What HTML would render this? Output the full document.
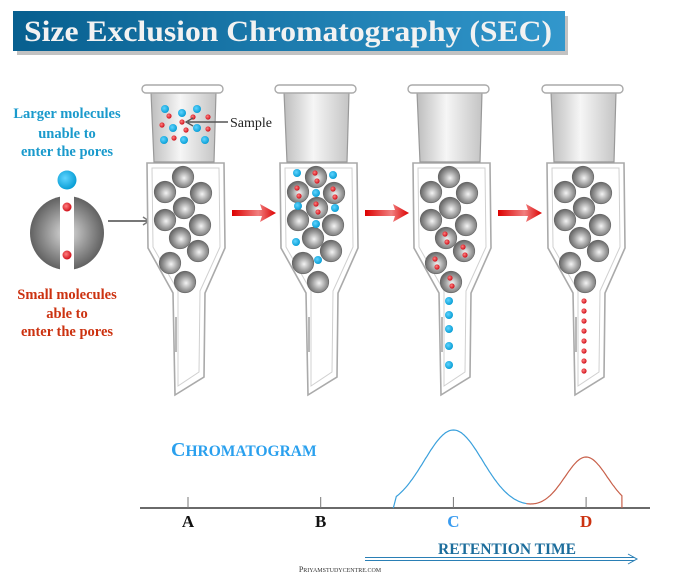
<!DOCTYPE html>
<html><head><meta charset="utf-8"><style>
html,body{margin:0;padding:0;background:#fff;}
svg{display:block;}
.serif{font-family:"Liberation Serif",serif;font-weight:bold;}
</style></head><body>
<svg id="fig" width="680" height="574" viewBox="0 0 680 574" xmlns="http://www.w3.org/2000/svg">
<defs>
<linearGradient id="titleG" x1="0" x2="1"><stop offset="0" stop-color="#075f8f"/><stop offset="1" stop-color="#3297cc"/></linearGradient>
<radialGradient id="bead" cx="0.55" cy="0.55" r="0.6"><stop offset="0" stop-color="#f4f4f4"/><stop offset="0.55" stop-color="#9a9a9a"/><stop offset="1" stop-color="#5a5a5a"/></radialGradient>
<radialGradient id="bigbead" cx="0.5" cy="0.5" r="0.55"><stop offset="0" stop-color="#dcdcdc"/><stop offset="0.6" stop-color="#8a8a8a"/><stop offset="1" stop-color="#555"/></radialGradient>
<radialGradient id="blue" cx="0.4" cy="0.4" r="0.6"><stop offset="0" stop-color="#5fd4ff"/><stop offset="1" stop-color="#0a9fd6"/></radialGradient>
<radialGradient id="red" cx="0.4" cy="0.4" r="0.6"><stop offset="0" stop-color="#ff8080"/><stop offset="1" stop-color="#d0101a"/></radialGradient>
<linearGradient id="res" x1="0" x2="1"><stop offset="0" stop-color="#bdbdbd"/><stop offset="0.45" stop-color="#f6f6f6"/><stop offset="1" stop-color="#c4c4c4"/></linearGradient>
<linearGradient id="arrowG" x1="0" x2="1"><stop offset="0" stop-color="#d00"/><stop offset="0.6" stop-color="#f08080"/><stop offset="1" stop-color="#d00"/></linearGradient>
</defs>

<rect x="17" y="16" width="551" height="39" fill="#999" opacity="0.6"/>
<rect x="13" y="11" width="552" height="40" fill="url(#titleG)"/>
<text x="24" y="41" textLength="528" lengthAdjust="spacingAndGlyphs" class="serif" font-size="30" fill="#f2f2f2">Size Exclusion Chromatography (SEC)</text>

<g class="serif" font-size="14.5" text-anchor="middle" fill="#1a9acc">
<text x="67" y="118">Larger molecules</text><text x="67" y="138">unable to</text><text x="67" y="156">enter the pores</text></g>
<g class="serif" font-size="14.5" text-anchor="middle" fill="#cc3210">
<text x="67" y="299">Small molecules</text><text x="67" y="318">able to</text><text x="67" y="336">enter the pores</text></g>
<circle cx="67" cy="180" r="9.5" fill="url(#blue)"/>
<g>
<circle cx="67" cy="233" r="37" fill="url(#bigbead)"/>
<rect x="60" y="195" width="14" height="76" fill="#fff"/>
<circle cx="67" cy="207" r="4.5" fill="url(#red)"/><circle cx="67" cy="255" r="4.5" fill="url(#red)"/>
</g>
<g><line x1="108" y1="221" x2="148" y2="221" stroke="#777" stroke-width="2"/><path d="M143,217 L149,221 L143,225" fill="none" stroke="#777" stroke-width="1.5"/></g>

<g id="cols"></g>

<g>
<line x1="188" y1="122" x2="228" y2="122" stroke="#555" stroke-width="1.5"/>
<path d="M193,118 L186,122 L193,126" fill="none" stroke="#555" stroke-width="1.3"/>
<text x="230" y="127" font-family="Liberation Serif,serif" font-size="14" fill="#222">Sample</text></g>

<g id="chart"></g>
<text x="171" y="456" class="serif" font-size="20" fill="#2aa0ee">C<tspan font-size="15.5">HROMATOGRAM</tspan></text>
<text x="507" y="554" text-anchor="middle" class="serif" font-size="15.5" fill="#1c6d9c">RETENTION TIME</text>
<g>
<line x1="365" y1="557.5" x2="634" y2="557.5" stroke="#2a7fb5" stroke-width="1"/>
<line x1="365" y1="560.5" x2="634" y2="560.5" stroke="#2a7fb5" stroke-width="1"/>
<path d="M628,554 L637,559 L628,564" fill="none" stroke="#2a7fb5" stroke-width="1"/></g>
<text x="340" y="572" text-anchor="middle" font-family="Liberation Serif,serif" font-size="8" fill="#333">P<tspan font-size="6">RIYAMSTUDYCENTRE.COM</tspan></text>
</svg>
<script>
const NS='http://www.w3.org/2000/svg';
function mk(tag,attrs,parent){const e=document.createElementNS(NS,tag);for(const k in attrs)e.setAttribute(k,attrs[k]);parent.appendChild(e);return e;}
const cols=document.getElementById('cols');
const centers=[183,316,449,583];
const beads=[[0,177],[-18,192],[18,193],[1,208],[-18,220],[17,225],[-3,238],[15,251],[-13,263],[2,282]];
const sampleBlue=[[-18,109],[-1,113],[14,109],[-10,128],[14,128],[-19,140],[1,140],[22,140]];
const sampleRed=[[-14,116],[10,117],[25,117],[-21,125],[-1,122],[3,130],[25,129],[-9,138]];
const col2Blue=[[-19,173],[17,175],[0,193],[-18,206],[19,208],[0,224],[-20,242],[2,260]];
const col2RedBeads=[0,1,2,3];
const col3Blue=[301,315,329,346,365];
const col3RedBeads=[6,7,8,9];
const col4Red=[301,311,321,331,341,351,361,371];
centers.forEach((cx,i)=>{
  const g=mk('g',{},cols);
  
  
  mk('path',{d:`M${cx-36},163 L${cx+41},163 L${cx+42},248 L${cx+22},293 L${cx+21},377 L${cx-8},395 L${cx-10},293 L${cx-35},248 Z`,fill:'#fff',stroke:'#aaa','stroke-width':1.6},g);
  mk('path',{d:`M${cx-31},168 L${cx+36},168 L${cx+37},247 L${cx+17},291 L${cx+16},372 L${cx-5},386 L${cx-5},291 L${cx-30},247 Z`,fill:'none',stroke:'#d0d0d0','stroke-width':1},g);
  mk('line',{x1:cx-7,y1:317,x2:cx-7,y2:352,stroke:'#888','stroke-width':1.2},g);
  mk('path',{d:`M${cx-32},92 L${cx+33},92 L${cx+31},162 L${cx-29},162 Z`,fill:'url(#res)',stroke:'#999','stroke-width':1.2},g);
  mk('rect',{x:cx-41,y:85,width:81,height:8,rx:4,fill:'#fff',stroke:'#aaa','stroke-width':1.4},g);
  beads.forEach((b,j)=>{
    let dx=b[0];
    const c=mk('circle',{cx:cx+dx,cy:b[1],r:10.8,fill:'url(#bead)',stroke:'#666','stroke-width':0.6},g);
    
    
    const redIdx=i===1?col2RedBeads:i===2?col3RedBeads:[];
    if(redIdx.includes(j)){
      mk('circle',{cx:cx+dx-1,cy:b[1]-4,r:2.6,fill:'url(#red)'},g);
      mk('circle',{cx:cx+dx+1,cy:b[1]+4,r:2.6,fill:'url(#red)'},g);
    }
  });
  if(i===0){
    sampleBlue.forEach(p=>mk('circle',{cx:cx+p[0],cy:p[1],r:4,fill:'url(#blue)'},g));
    sampleRed.forEach(p=>mk('circle',{cx:cx+p[0],cy:p[1],r:2.6,fill:'url(#red)'},g));
  }
  if(i===1) col2Blue.forEach(p=>mk('circle',{cx:cx+p[0],cy:p[1],r:4,fill:'url(#blue)'},g));
  if(i===2) col3Blue.forEach(y=>mk('circle',{cx:cx,cy:y,r:4,fill:'url(#blue)'},g));
  if(i===3) col4Red.forEach(y=>mk('circle',{cx:cx+1,cy:y,r:2.6,fill:'url(#red)'},g));
  if(i<3){
    const ax=cx+49;
    const a=mk('path',{d:`M${ax},210 L${ax+30},210 L${ax+28},204 L${ax+44},213 L${ax+28},222 L${ax+30},216 L${ax},216 Z`,fill:'url(#arrowG)'},cols);
    
    
  }
});

// chromatogram data
const categories=['A','B','C','D'];
const categoryTimes=[1,2,3,4];
const peakCenters=[3,4];
const peakHeights=[78,51];
const peakWidths=[0.22,0.16];
const peakColors=['#3aa0dc','#c8604a'];
const labelColors=['#111','#111','#3a9cf0','#cc3210'];
const tStart=2.57, tEnd=4.27, tSplit=3.55;
const xS=t=>188+(t-1)*132.7;
const yS=v=>508-v;
const chart=document.getElementById('chart');
const ax=mk('line',{x1:140,y1:508,x2:650,y2:508,stroke:'#111','stroke-width':1.3},chart);


function signal(t){let s=0;for(let k=0;k<peakCenters.length;k++){s+=peakHeights[k]*Math.exp(-0.5*Math.pow((t-peakCenters[k])/peakWidths[k],2));}return s;}
function seg(a,b){let d='';for(let t=a;t<=b+1e-9;t+=0.01){d+=(d?'L':'M')+xS(t).toFixed(1)+','+yS(signal(t)).toFixed(1);}return d;}
const p1=mk('path',{d:'M'+(xS(tStart)-3)+',508 L'+seg(tStart,tSplit).slice(1),fill:'none',stroke:peakColors[0],'stroke-width':1.2},chart);


const p2=mk('path',{d:seg(tSplit,tEnd)+' L'+xS(tEnd)+',508',fill:'none',stroke:peakColors[1],'stroke-width':1.2},chart);


categories.forEach((c,i)=>{
  const x=xS(categoryTimes[i]);
  const tk=mk('line',{x1:x,y1:497,x2:x,y2:508,stroke:'#777','stroke-width':1},chart);
  
  
  const tx=mk('text',{x:x,y:527,'text-anchor':'middle','font-family':'Liberation Serif,serif','font-weight':'bold','font-size':17,fill:labelColors[i]},chart);
  tx.textContent=c;
  
  
});
</script>
</body></html>
